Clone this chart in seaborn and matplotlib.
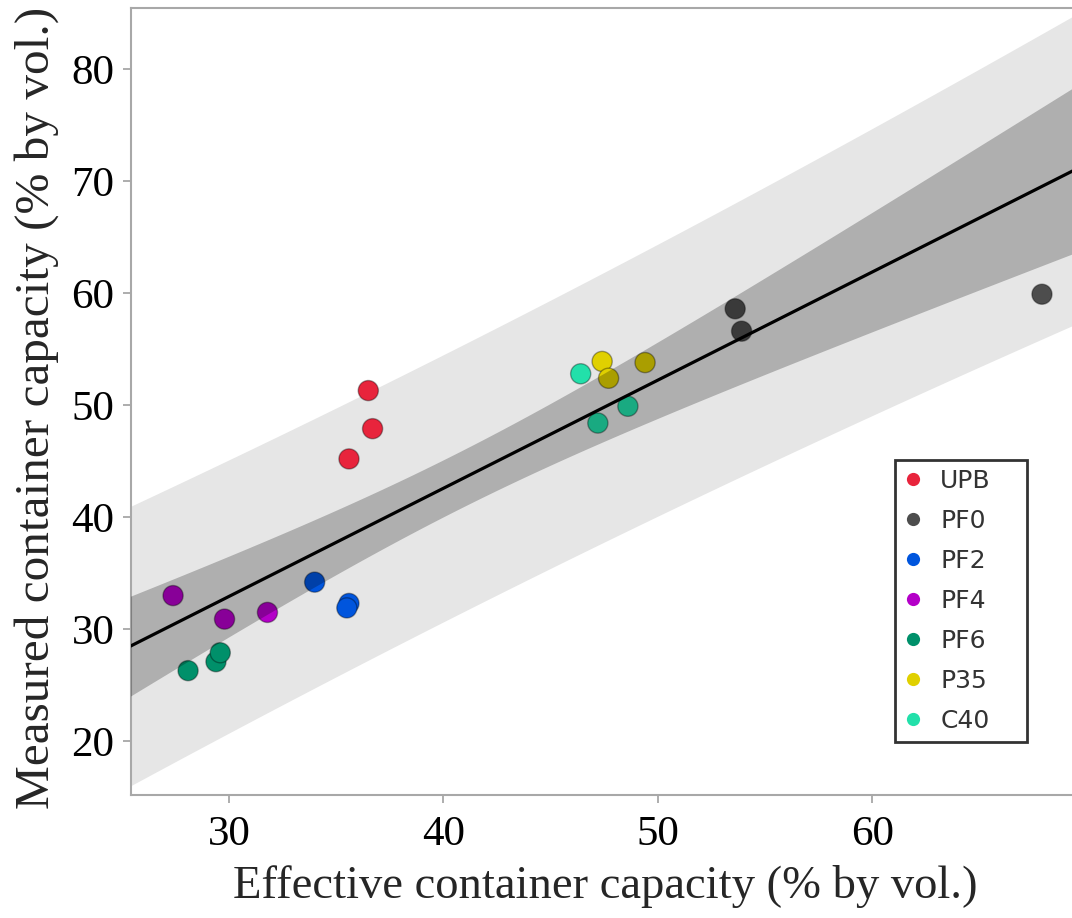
import numpy as np
import pandas as pd
import matplotlib
matplotlib.use("Agg")
import matplotlib.pyplot as plt
from matplotlib.lines import Line2D
import seaborn as sns

# Substrate groups and their measurements (% by volume)
groups = ["UPB", "PF0", "PF2", "PF4", "PF6", "P35", "C40"]
effective = {
    "UPB": [36.5, 36.7, 35.6],
    "PF0": [53.6, 53.9, 67.9],
    "PF2": [34.0, 35.6, 35.5],
    "PF4": [27.4, 29.8, 31.8],
    "PF6": [28.1, 29.4, 29.6],
    "P35": [47.4, 47.7, 49.4],
    "C40": [46.4, 47.2, 48.6],
}
measured = {
    "UPB": [51.3, 47.9, 45.2],
    "PF0": [58.6, 56.6, 59.9],
    "PF2": [34.2, 32.3, 31.9],
    "PF4": [33.0, 30.9, 31.5],
    "PF6": [26.3, 27.1, 27.9],
    "P35": [53.9, 52.4, 53.8],
    "C40": [52.8, 48.4, 49.9],
}
group_colors = ["#e8243c", "#4d4d4d", "#0055dd", "#b400c8", "#00906a", "#e0d000", "#22e0aa"]
x_ticks = [30, 40, 50, 60]
y_ticks = [20, 30, 40, 50, 60, 70, 80]

df = pd.DataFrame(
    [(g, x, y) for g in groups for x, y in zip(effective[g], measured[g])],
    columns=["group", "effective", "measured"],
)

# Ordinary least squares fit with 95% confidence and prediction bands
x = df["effective"].to_numpy()
y = df["measured"].to_numpy()
n = len(x)
slope, intercept = np.polyfit(x, y, 1)
resid = y - (intercept + slope * x)
s = np.sqrt(np.sum(resid ** 2) / (n - 2))
sxx = np.sum((x - x.mean()) ** 2)
T_CRIT_95 = 2.093  # two-sided Student t, 19 degrees of freedom

xlim = (25.44, 69.3)
ylim = (15.2, 85.45)
xg = np.linspace(xlim[0] - 1, xlim[1] + 1, 300)
yg = intercept + slope * xg
se_mean = s * np.sqrt(1 / n + (xg - x.mean()) ** 2 / sxx)
se_pred = s * np.sqrt(1 + 1 / n + (xg - x.mean()) ** 2 / sxx)

sns.set_theme(style="white")
plt.rcParams["font.family"] = ["Liberation Serif", "DejaVu Serif"]

fig = plt.figure(figsize=(10.72, 9.18), dpi=100)
ax = fig.add_axes([131 / 1072, 123 / 918, 941 / 1072, 787 / 918])

# Prediction band below the points
ax.fill_between(xg, yg - T_CRIT_95 * se_pred, yg + T_CRIT_95 * se_pred,
                color="#e6e6e6", lw=0, zorder=1)

sns.scatterplot(data=df, x="effective", y="measured", hue="group",
                hue_order=groups, palette=group_colors, s=210,
                edgecolor=(0, 0, 0, 0.35), linewidth=1.0, legend=False,
                ax=ax, zorder=2)

# Confidence band shades everything beneath it
ax.fill_between(xg, yg - T_CRIT_95 * se_mean, yg + T_CRIT_95 * se_mean,
                color="black", alpha=0.24, lw=0, zorder=3)

sns.lineplot(x=xg, y=yg, color="black", lw=2.3, ax=ax, zorder=4)

ax.set_xlim(*xlim)
ax.set_ylim(*ylim)
ax.set_xticks(x_ticks)
ax.set_yticks(y_ticks)
ax.tick_params(axis="both", which="major", direction="out", length=6,
               width=1.2, color="#a0a0a0", labelcolor="black")
ax.tick_params(axis="x", labelsize=31, pad=9)
ax.tick_params(axis="y", labelsize=31, pad=6)
ax.tick_params(left=True, bottom=True)

for side in ["left", "bottom", "top"]:
    ax.spines[side].set_color("#a8a8a8")
    ax.spines[side].set_linewidth(1.5)
ax.spines["right"].set_visible(False)

ax.set_xlabel("Effective container capacity (% by vol.)", fontsize=33.6)
ax.set_ylabel("Measured container capacity (% by vol.)", fontsize=35.5)
ax.xaxis.set_label_coords(0.504, -0.089)
ax.yaxis.set_label_coords(-0.077, 0.492)

handles = [Line2D([0], [0], marker="o", linestyle="none", markersize=9.5,
                  markerfacecolor=c, markeredgewidth=0)
           for c in group_colors]
leg = ax.legend(handles, groups, loc="upper left", mode="expand",
                bbox_to_anchor=(0.812, 0.0699, 0.1403, 0.3558),
                borderaxespad=0, frameon=True, fancybox=False,
                handlelength=0.7, handletextpad=0.75, labelspacing=0.64,
                borderpad=0.36, prop={"family": "DejaVu Sans", "size": 18})
leg.get_frame().set_edgecolor("black")
leg.get_frame().set_linewidth(2)
leg.set_zorder(10)
for t in leg.get_texts():
    t.set_color("#333333")

fig.savefig("out.png", dpi=100)
